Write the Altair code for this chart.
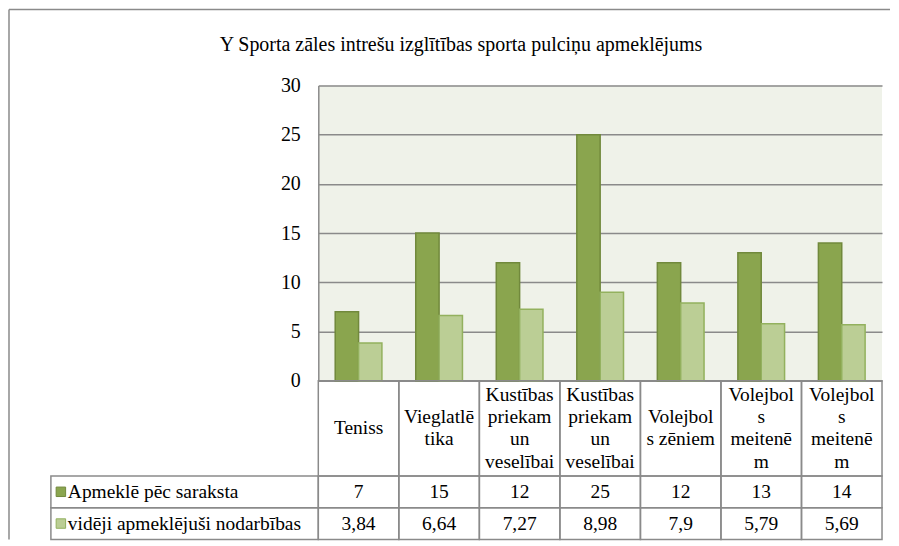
import altair as alt
import pandas as pd

title_text = "Y Sporta zāles intrešu izglītības sporta pulciņu apmeklējums"
keys = ["c1", "c2", "c3", "c4", "c5", "c6", "c7"]
labels = [
    ["Teniss"],
    ["Vieglatlē", "tika"],
    ["Kustības", "priekam", "un", "veselībai"],
    ["Kustības", "priekam", "un", "veselībai"],
    ["Volejbol", "s zēniem"],
    ["Volejbol", "s", "meitenē", "m"],
    ["Volejbol", "s", "meitenē", "m"],
]
series_names = ["Apmeklē pēc saraksta", "vidēji apmeklējuši nodarbības"]
s1 = [7, 15, 12, 25, 12, 13, 14]
s2 = [3.84, 6.64, 7.27, 8.98, 7.9, 5.79, 5.69]
y_ticks = [0, 5, 10, 15, 20, 25, 30]

DARK, DARK_S = "#8AA54E", "#71893C"
LIGHT, LIGHT_S = "#BBCE95", "#93B15E"
GRID = "#8A8A8A"
FONT = "Liberation Serif"
FS = 19.5


def fmt(v):
    return str(v).replace(".", ",")


bars_df = pd.DataFrame(
    [{"key": k, "series": series_names[0], "value": v} for k, v in zip(keys, s1)]
    + [{"key": k, "series": series_names[1], "value": v} for k, v in zip(keys, s2)]
)

# table rows in "row units": header 0..3, row1 3..4, row2 4..5
ROW_PX = 159 / 5.0
LINE = 22.3 / ROW_PX
cells_df = pd.DataFrame(
    [{"key": k, "r0": 0, "r1": 3} for k in keys]
    + [{"key": k, "r0": 3, "r1": 4} for k in keys]
    + [{"key": k, "r0": 4, "r1": 5} for k in keys]
)
header_rows = []
for k, lines in zip(keys, labels):
    n = len(lines)
    for i, ln in enumerate(lines):
        header_rows.append({"key": k, "label": ln,
                            "ym": 1.5 + (i - (n - 1) / 2.0) * LINE})
header_df = pd.DataFrame(header_rows)
vals_df = pd.DataFrame(
    [{"key": k, "ym": 3.5, "t": fmt(v)} for k, v in zip(keys, s1)]
    + [{"key": k, "ym": 4.5, "t": fmt(v)} for k, v in zip(keys, s2)]
)
leg_df = pd.DataFrame(
    {"l0": [0, 0], "l1": [1, 1], "r0": [3, 4], "r1": [4, 5], "ym": [3.5, 4.5],
     "series": series_names}
)

W, H = 565, 296
x_bar = alt.Scale(domain=keys, paddingInner=0.42, paddingOuter=0.21)
x_tab = alt.Scale(domain=keys, paddingInner=0, paddingOuter=0)
y_tab = alt.Scale(domain=[0, 5], range=[H, H + 159])
x_leg = alt.Scale(domain=[0, 1], range=[-268, 0])
col_fill = alt.Scale(domain=series_names, range=[DARK, LIGHT])
col_stroke = alt.Scale(domain=series_names, range=[DARK_S, LIGHT_S])

bars = alt.Chart(bars_df).mark_bar(strokeWidth=1.5).encode(
    x=alt.X("key:N", scale=x_bar, axis=None, sort=keys),
    xOffset=alt.XOffset("series:N", sort=series_names,
                        scale=alt.Scale(paddingInner=0, paddingOuter=0)),
    y=alt.Y("value:Q", scale=alt.Scale(domain=[0, 30]),
            axis=alt.Axis(values=y_ticks, grid=True, ticks=False, domain=True,
                          domainColor=GRID, domainWidth=1.5, gridColor=GRID,
                          gridWidth=1.5, labelFont=FONT, labelFontSize=20,
                          labelColor="black", labelPadding=18, title=None)),
    fill=alt.Fill("series:N", scale=col_fill, legend=None),
    stroke=alt.Stroke("series:N", scale=col_stroke, legend=None),
)

cells = alt.Chart(cells_df).mark_rect(fill="white", fillOpacity=0, stroke=GRID,
                                      strokeWidth=1.5).encode(
    x=alt.X("key:N", scale=x_tab, axis=None, sort=keys),
    y=alt.Y("r0:Q", scale=y_tab, axis=None),
    y2="r1:Q",
)

header = alt.Chart(header_df).mark_text(font=FONT, fontSize=FS, baseline="middle",
                                        color="black").encode(
    x=alt.X("key:N", scale=x_tab, axis=None, sort=keys),
    y=alt.Y("ym:Q", scale=y_tab, axis=None),
    text="label:N",
)

vals = alt.Chart(vals_df).mark_text(font=FONT, fontSize=FS, baseline="middle",
                                    color="black").encode(
    x=alt.X("key:N", scale=x_tab, axis=None, sort=keys),
    y=alt.Y("ym:Q", scale=y_tab, axis=None),
    text="t:N",
)

leg_cells = alt.Chart(leg_df).mark_rect(fill="white", fillOpacity=0, stroke=GRID,
                                        strokeWidth=1.5).encode(
    x=alt.X("l0:Q", scale=x_leg, axis=None),
    x2="l1:Q",
    y=alt.Y("r0:Q", scale=y_tab, axis=None),
    y2="r1:Q",
)

leg_sw = alt.Chart(leg_df).mark_square(size=90, strokeWidth=1, opacity=1,
                                       xOffset=10).encode(
    x=alt.X("l0:Q", scale=x_leg, axis=None),
    y=alt.Y("ym:Q", scale=y_tab, axis=None),
    fill=alt.Fill("series:N", scale=col_fill, legend=None),
    stroke=alt.Stroke("series:N", scale=col_stroke, legend=None),
)

leg_txt = alt.Chart(leg_df).mark_text(font=FONT, fontSize=FS, align="left",
                                      baseline="middle", dx=17,
                                      color="black").encode(
    x=alt.X("l0:Q", scale=x_leg, axis=None),
    y=alt.Y("ym:Q", scale=y_tab, axis=None),
    text="series:N",
)

one = pd.DataFrame({"t": [title_text]})
title = alt.Chart(one).mark_text(font=FONT, fontSize=20, baseline="middle",
                                 align="center", color="black").encode(
    x=alt.value(143), y=alt.value(-41), text="t:N")

frame_l = alt.Chart(one).mark_rule(color=GRID, strokeWidth=1.5).encode(
    x=alt.value(-310), y=alt.value(-76), y2=alt.value(455))
frame_t = alt.Chart(one).mark_rule(color=GRID, strokeWidth=1.5).encode(
    x=alt.value(-310), x2=alt.value(573), y=alt.value(-76))

chart = alt.layer(
    bars, cells, header, vals, leg_cells, leg_sw, leg_txt, title, frame_l, frame_t
).resolve_scale(
    x="independent", y="independent"
).properties(
    width=W, height=H, padding={"left": 0, "top": 0, "right": 0, "bottom": 0}
).configure_view(
    stroke=None, fill="#EFF2E9"
)

chart.save("out.html", embed_options={"renderer": "svg", "actions": False})
